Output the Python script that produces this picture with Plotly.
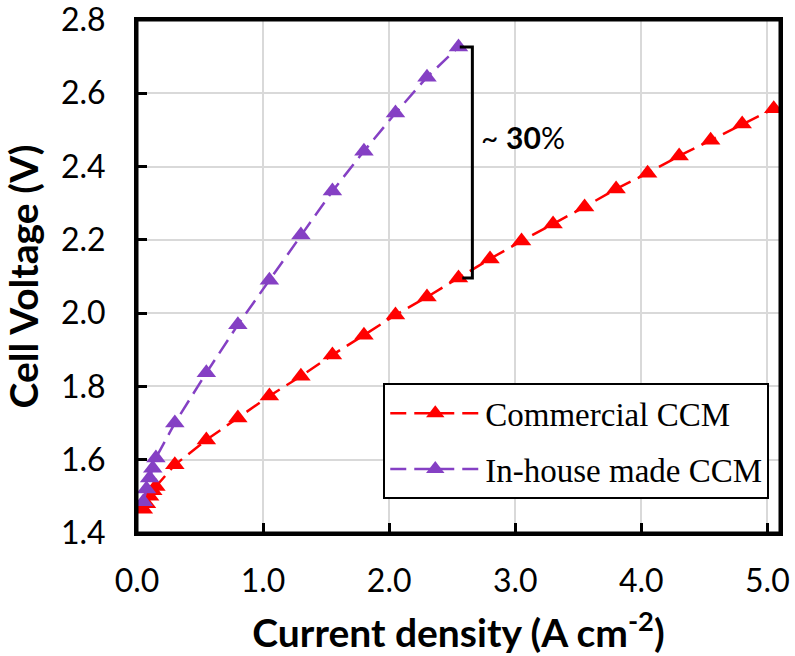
import plotly.graph_objects as go

# Data
commercial_x = [0.05, 0.075, 0.1, 0.125, 0.15, 0.3, 0.55, 0.8, 1.05, 1.3, 1.55, 1.8, 2.05, 2.3,
                2.55, 2.8, 3.05, 3.3, 3.55, 3.8, 4.05, 4.3, 4.55, 4.8, 5.05]
commercial_y = [1.465, 1.48, 1.50, 1.515, 1.527, 1.586, 1.654, 1.714, 1.774, 1.828, 1.886, 1.94,
                1.995, 2.044, 2.096, 2.148, 2.197, 2.243, 2.29, 2.339, 2.382, 2.429, 2.472, 2.516, 2.558]
inhouse_x = [0.05, 0.075, 0.1, 0.125, 0.15, 0.3, 0.55, 0.8, 1.05, 1.3, 1.55, 1.8, 2.05, 2.3, 2.55]
inhouse_y = [1.485, 1.52, 1.55, 1.577, 1.605, 1.70, 1.837, 1.968, 2.09, 2.213, 2.333, 2.442,
             2.546, 2.644, 2.726]
x_ticks = [0.0, 1.0, 2.0, 3.0, 4.0, 5.0]
y_ticks = [1.4, 1.6, 1.8, 2.0, 2.2, 2.4, 2.6, 2.8]
x_range = [0, 5.1]
y_range = [1.4, 2.8]

RED = "#ff0000"
PURPLE = "#8540c4"

fig = go.Figure()
fig.add_trace(go.Scatter(
    x=commercial_x, y=commercial_y, mode="lines+markers", name="Commercial CCM",
    legendgroup="a",
    line=dict(color=RED, width=2.5, dash="16px,8px"),
    marker=dict(symbol="triangle-up", size=17, color=RED)))
fig.add_trace(go.Scatter(
    x=inhouse_x, y=inhouse_y, mode="lines+markers", name="In-house made CCM",
    legendgroup="b",
    line=dict(color=PURPLE, width=2.5, dash="16px,8px"),
    marker=dict(symbol="triangle-up", size=17, color=PURPLE)))

# plot frame
fig.add_shape(type="rect", xref="paper", yref="paper", x0=0, x1=1, y0=0, y1=1,
              line=dict(color="black", width=3), layer="above")

# bracket annotation
bx = 2.66
top_y = inhouse_y[-1]
bot_y = commercial_y[14]
fig.add_shape(type="path",
              path=f"M 2.56 {top_y} L {bx} {top_y} L {bx} {bot_y} L 2.58 {bot_y}",
              xref="x", yref="y", line=dict(color="black", width=3))
fig.add_annotation(x=2.71, y=2.48, xref="x", yref="y", xanchor="left", yanchor="middle",
                   text="~ <b>30</b>%", showarrow=False,
                   font=dict(family="Lato", size=30, color="black"))

axis_main = dict(
    showline=True, linecolor="black", linewidth=3, mirror=True,
    ticks="inside", ticklen=10, tickwidth=3, tickcolor="black",
    showgrid=True, gridcolor="#d9d9d9", gridwidth=2, zeroline=False,
    tickfont=dict(family="Lato", size=32, color="black"),
    ticklabeloverflow="allow", automargin=False,
)

fig.update_layout(
    xaxis=dict(range=x_range, tickvals=x_ticks, ticktext=[f"{v:.1f}" for v in x_ticks],
               ticklabelstandoff=18,
               title=dict(text="<b>Current density (A cm<sup>-2</sup>)</b>",
                          font=dict(family="Lato", size=39, color="black"), standoff=22),
               **axis_main),
    yaxis=dict(range=y_range, tickvals=y_ticks, ticktext=[f"{v:.1f}" for v in y_ticks],
               ticklabelstandoff=22,
               title=dict(text="<b>Cell Voltage (V)</b>",
                          font=dict(family="Lato", size=39, color="black"), standoff=12),
               **axis_main),
    width=795, height=656,
    margin=dict(l=137, r=15, t=20, b=123),
    plot_bgcolor="white", paper_bgcolor="white",
    legend=dict(x=0.383, y=0.292, xanchor="left", yanchor="top",
                bgcolor="white", bordercolor="black", borderwidth=2,
                font=dict(family="Liberation Serif", size=33, color="black"),
                itemwidth=90, tracegroupgap=10),
)

fig.write_html("out.html")
